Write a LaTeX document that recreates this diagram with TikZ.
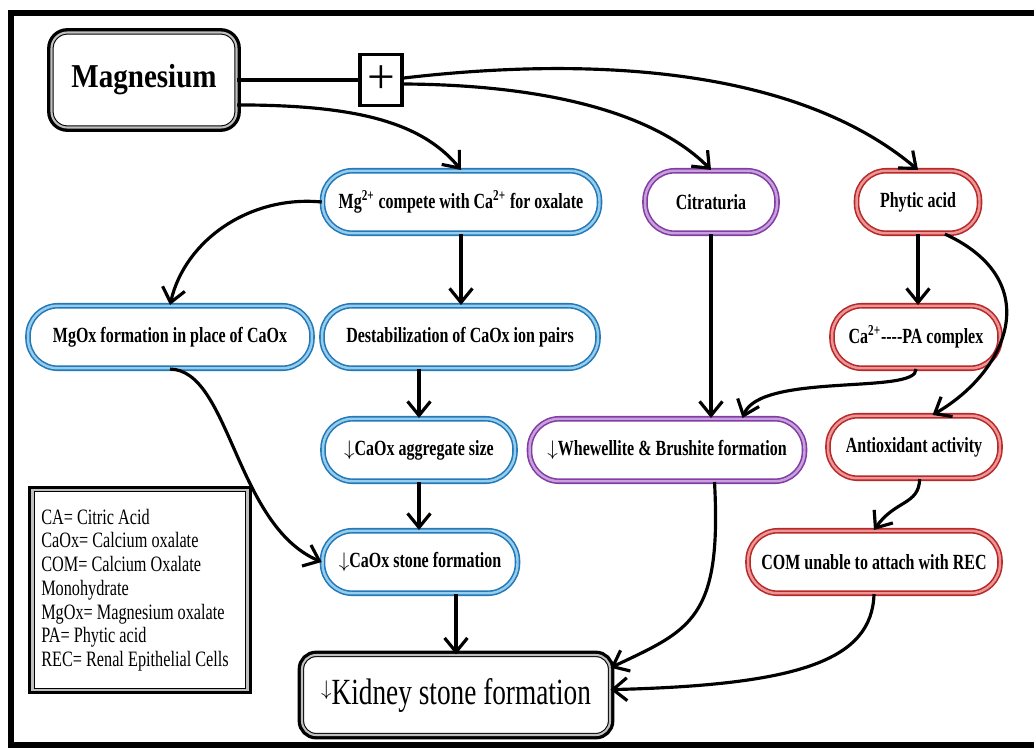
\documentclass[tikz,border=0pt]{standalone}
\usepackage{fontspec}
\setmainfont{Liberation Serif}
\newfontfamily\boxfont[FakeStretch=0.74]{Liberation Serif}
\newfontfamily\magfont[FakeStretch=0.87]{Liberation Serif}
\usetikzlibrary{arrows.meta}
\definecolor{bluedark}{RGB}{35,120,185}
\definecolor{bluelight}{RGB}{150,205,235}
\definecolor{purpdark}{RGB}{130,60,165}
\definecolor{purplight}{RGB}{200,160,220}
\definecolor{reddark}{RGB}{185,40,40}
\definecolor{redlight}{RGB}{235,150,150}

\begin{document}
\begin{tikzpicture}[x=0.02cm,y=0.02cm,
	pill/.style={rectangle,rounded corners=17pt,fill=white,line width=0.9pt,double distance=1.4pt,
		minimum height=1.25cm,inner sep=2pt,font=\boxfont\bfseries\fontsize{12.3}{14}\selectfont},
	bluepill/.style={pill,draw=bluedark,double=bluelight},
	purppill/.style={pill,draw=purpdark,double=purplight},
	redpill/.style={pill,draw=reddark,double=redlight},
	heavybox/.style={rectangle,fill=white,draw=black,line width=0.6pt,double=black!25,
		double distance=1.2pt,preaction={draw=black,line width=5pt}},
	link/.style={line width=1.8pt,-{Straight Barb[length=8pt,width=13pt]}}]
			%%%%% START %%%%%
			\def\ya{-202}
			\def\yb{-337}
			\def\yc{-450}
			\def\yd{-562}
			
			\useasboundingbox (0,0) rectangle (1034,-748);
			\draw[line width=3.4pt] (1034,-13) -- (11,-13) -- (11,-745) -- (1034,-745);
			
			\node[heavybox,rounded corners=9pt,minimum width=3.7cm,minimum height=1.9cm,
				font=\magfont\bfseries\fontsize{19}{22}\selectfont] (mag) at (144,-80) {Magnesium};
			\node[draw,line width=1.8pt,fill=white,minimum width=0.84cm,minimum height=1.02cm,inner sep=0pt,
				font=\fontsize{28}{28}\selectfont] (plus) at (381,-80) {+};
			
			\node[bluepill,minimum width=5.54cm] (comp) at (461,\ya) {Mg\textsuperscript{2+} compete with Ca\textsuperscript{2+} for oxalate};
			\node[purppill,minimum width=2.64cm] (cit) at (711,\ya) {Citraturia};
			\node[redpill,minimum width=2.46cm] (phy) at (918,\ya) {Phytic acid};
			
			\node[bluepill,minimum width=5.68cm] (mgox) at (170,\yb) {MgOx formation in place of CaOx};
			\node[bluepill,minimum width=5.52cm] (destab) at (460,\yb) {Destabilization of CaOx ion pairs};
			\node[redpill,minimum width=3.36cm] (capa) at (916,\yb) {Ca\textsuperscript{2+}-{}-{}-{}-PA complex};
			
			\node[bluepill,minimum width=3.84cm] (agg) at (419,\yc) {$\downarrow$CaOx aggregate size};
			\node[purppill,minimum width=5.5cm] (whew) at (667,\yc) {$\downarrow$Whewellite \& Brushite formation};
			\node[redpill,minimum width=3.44cm] (anti) at (914,-447) {Antioxidant activity};
			
			\node[bluepill,minimum width=3.9cm] (stone) at (420,\yd) {$\downarrow$CaOx stone formation};
			\node[redpill,minimum width=5.04cm] (com) at (874,\yd) {COM unable to attach with REC};
			
			\node[heavybox,rounded corners=8pt,minimum width=6.16cm,minimum height=1.6cm,
				font=\boxfont\fontsize{21}{24}\selectfont] (kid) at (456,-695)
				{\raisebox{5pt}{\fontsize{13}{13}\selectfont$\downarrow$}Kidney stone formation};
			
			%abbreviations
			\node[heavybox,minimum width=4.3cm,minimum height=4cm,text width=3.95cm,align=left,inner sep=5pt,
				font=\boxfont\fontsize{12.5}{13.5}\selectfont] (legend) at (140,-590)
				{\spaceskip=0pt\xspaceskip=0pt
				CA= Citric Acid\\CaOx= Calcium oxalate\\COM= Calcium Oxalate\\Monohydrate\\
				MgOx= Magnesium oxalate\\PA= Phytic acid\\REC= Renal Epithelial Cells};
			
			\draw[line width=1.8pt] (mag.east) -- (mag.east -| plus.west);
			\draw[link] (plus.-10) .. controls (560,-85) and (660,-118) .. (cit.north);
			\draw[link] (plus.5) .. controls (600,-55) and (800,-70) .. (phy.north);
			\draw[link] (mag.-15) .. controls (350,-105) and (420,-120) .. (comp.north);
			
			%blue branch
			\draw[link] (comp.west) .. controls (250,-195) and (185,-240) .. (mgox.north);
			\draw[link] (comp.south) -- (comp.south |- destab.north);
			\draw[link] (agg.north |- destab.south) -- (agg.north);
			\draw[link] (agg.south) -- (agg.south |- stone.north);
			\draw[link] (mgox.south) .. controls (230,-370) and (235,-525) .. (stone.west);
			\draw[link] (kid.north |- stone.south) -- (kid.north);
			
			%purple and red branch
			\draw[link] (cit.south) -- (cit.south |- whew.north);
			\draw[link] (phy.south) -- (phy.south |- capa.north);
			\draw[link] (phy.-50) .. controls (1045,-280) and (1010,-370) .. (anti.60);
			\draw[link] (capa.south) .. controls (918,-395) and (760,-372) .. (whew.23);
			\draw[link] (anti.-80) .. controls (919,-505) and (895,-500) .. (com.north);
			\draw[link] (whew.-34) .. controls (722,-620) and (690,-630) .. (kid.10);
			\draw[link] (com.south) .. controls (872,-660) and (800,-685) .. (kid.2);
			%%%%% START %%%%%
\end{tikzpicture}
\end{document}
